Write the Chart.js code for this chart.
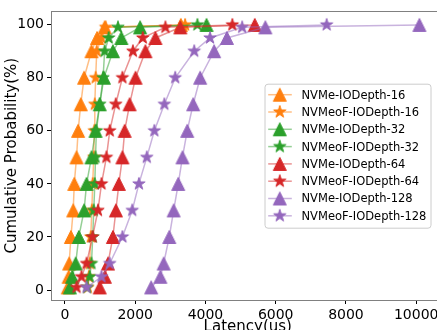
<!DOCTYPE html>
<html>
<head>
<meta charset="utf-8">
<script src="https://cdn.jsdelivr.net/npm/chart.js@4/dist/chart.umd.min.js"></script>
<style>
  html, body { margin: 0; padding: 0; background: #fff; overflow: hidden; }
  #wrap { position: relative; width: 452px; height: 340px; }
</style>
</head>
<body>
<div id="wrap"><canvas id="cdf"></canvas></div>
<script>
// percentile levels (fio clat percentiles)
var levels = [1, 5, 10, 20, 30, 40, 50, 60, 70, 80, 90, 95, 99, 99.9];

// latency in us at each percentile
var nvme16    = [80, 105, 120, 170, 235, 265, 330, 375, 450, 545, 755, 915, 1130, 3300];
var nvmeof16  = [650, 680, 705, 735, 765, 790, 820, 835, 850, 875, 905, 1040, 1160, 3420];
var nvme32    = [140, 205, 305, 395, 545, 615, 755, 870, 990, 1110, 1365, 1605, 2140, 4030];
var nvmeof32  = [630, 705, 755, 790, 820, 850, 870, 895, 990, 1085, 1130, 1245, 1510, 3770];
var nvme64    = [990, 1135, 1225, 1365, 1450, 1535, 1635, 1700, 1840, 2010, 2290, 2575, 3285, 5405];
var nvmeof64  = [330, 470, 615, 785, 940, 1040, 1180, 1275, 1445, 1635, 1935, 2215, 2860, 4765];
var nvme128   = [2455, 2715, 2810, 2970, 3095, 3225, 3345, 3480, 3650, 3850, 4245, 4610, 5705, 10090];
var nvmeof128 = [615, 1040, 1275, 1635, 1915, 2105, 2330, 2545, 2830, 3140, 3680, 4130, 5045, 7450];

var names = ["NVMe-IODepth-16", "NVMeoF-IODepth-16", "NVMe-IODepth-32", "NVMeoF-IODepth-32",
             "NVMe-IODepth-64", "NVMeoF-IODepth-64", "NVMe-IODepth-128", "NVMeoF-IODepth-128"];
var series = [nvme16, nvmeof16, nvme32, nvmeof32, nvme64, nvmeof64, nvme128, nvmeof128];

var xTicks = [0, 2000, 4000, 6000, 8000, 10000];
var yTicks = [0, 20, 40, 60, 80, 100];

var colors = ["#ff7f0e", "#ff7f0e", "#2ca02c", "#2ca02c", "#d62728", "#d62728", "#9467bd", "#9467bd"];
var lineColors = ["rgba(255,127,14,0.5)", "rgba(255,127,14,0.5)", "rgba(44,160,44,0.5)", "rgba(44,160,44,0.5)",
                  "rgba(214,39,40,0.5)", "rgba(214,39,40,0.5)", "rgba(148,103,189,0.5)", "rgba(148,103,189,0.5)"];

// filled triangle / five point star markers
function makeMarker(shape, color) {
    var c = document.createElement("canvas");
    c.width = 18; c.height = 18;
    var g = c.getContext("2d");
    g.fillStyle = color;
    g.strokeStyle = color;
    g.lineWidth = 1;
    g.beginPath();
    if (shape == "tri") {
        var s = 6.5;
        g.moveTo(9, 9 - s);
        g.lineTo(9 + s, 9 + s);
        g.lineTo(9 - s, 9 + s);
    } else {
        var R = 6.5, r = R * 0.381966;
        for (var k = 0; k < 10; k++) {
            var a = -Math.PI / 2 + k * Math.PI / 5;
            var rr = (k % 2) ? r : R;
            g.lineTo(9 + rr * Math.cos(a), 9 + rr * Math.sin(a));
        }
    }
    g.closePath();
    g.fill();
    g.stroke();
    return c;
}

var markers = [];
var datasets = [];
for (let i = 0; i < series.length; i++) {
    markers.push(makeMarker(i % 2 == 0 ? "tri" : "star", colors[i]));
    datasets.push({
        label: names[i],
        data: series[i].map(function (v, j) { return { x: v, y: levels[j] }; }),
        borderColor: lineColors[i],
        backgroundColor: colors[i],
        borderWidth: 1.5,
        pointStyle: markers[i],
        pointRadius: 6,
        order: series.length - 1 - i
    });
}

// axes frame on top of the lines
var frame = {
    id: "frame",
    afterDatasetsDraw: function (chart) {
        var a = chart.chartArea, ctx = chart.ctx;
        ctx.save();
        ctx.strokeStyle = "#808080";
        ctx.lineWidth = 1;
        ctx.strokeRect(Math.round(a.left) + 0.5, Math.round(a.top) + 0.5,
                       Math.round(a.right - a.left), Math.round(a.bottom - a.top));
        ctx.restore();
    }
};

// legend box inside the plot, matplotlib style (line + marker)
var boxLegend = {
    id: "boxLegend",
    afterDraw: function (chart) {
        var a = chart.chartArea, ctx = chart.ctx;
        var w = 166, h = 144;
        var x = a.right - 14 - w, y = (a.top + a.bottom) / 2 - h / 2;
        ctx.save();
        ctx.beginPath();
        ctx.roundRect(x + 0.5, y + 0.5, w, h, 3);
        ctx.fillStyle = "rgba(255,255,255,0.8)";
        ctx.fill();
        ctx.strokeStyle = "#cccccc";
        ctx.lineWidth = 1;
        ctx.stroke();
        ctx.font = "11.5px 'DejaVu Sans'";
        ctx.textBaseline = "middle";
        ctx.fillStyle = "#000";
        for (let i = 0; i < names.length; i++) {
            var cy = y + 11 + i * 17.3;
            ctx.beginPath();
            ctx.moveTo(x + 3.7, cy);
            ctx.lineTo(x + 27.3, cy);
            ctx.strokeStyle = lineColors[i];
            ctx.lineWidth = 1.5;
            ctx.stroke();
            ctx.drawImage(markers[i], x + 15.3 - 9, cy - 9);
            ctx.fillText(names[i], x + 37, cy + 1);
        }
        ctx.restore();
    }
};

Chart.defaults.font.family = "'DejaVu Sans'";
Chart.defaults.color = "#000";

function plain(v) { return String(v); }

new Chart(document.getElementById("cdf"), {
    type: "line",
    data: { datasets: datasets },
    options: {
        responsive: true,
        maintainAspectRatio: false,
        animation: false,
        layout: { padding: { top: 10, right: 5, left: 0, bottom: 0 } },
        plugins: { legend: { display: false }, tooltip: { enabled: false } },
        scales: {
            x: {
                type: "linear",
                min: -397,
                max: 10805,
                afterBuildTicks: function (s) { s.ticks = xTicks.map(function (v) { return { value: v }; }); },
                afterFit: function (s) { s.height = 40; },
                ticks: { font: { size: 14 }, padding: 3, maxRotation: 0, callback: plain },
                grid: { drawOnChartArea: false, tickLength: 4, color: "#000" },
                border: { display: false },
                title: { display: true, text: "Latency(us)", font: { size: 15 }, padding: { top: 5 } }
            },
            y: {
                type: "linear",
                min: -3.75,
                max: 105,
                afterBuildTicks: function (s) { s.ticks = yTicks.map(function (v) { return { value: v }; }); },
                afterFit: function (s) { s.width = 51; },
                ticks: { font: { size: 14 }, padding: 3, callback: plain },
                grid: { drawOnChartArea: false, tickLength: 4, color: "#000" },
                border: { display: false },
                title: { display: true, text: "Cumulative Probability(%)", font: { size: 15 }, padding: { top: 3 } }
            }
        }
    },
    plugins: [frame, boxLegend]
});
</script>
</body>
</html>
